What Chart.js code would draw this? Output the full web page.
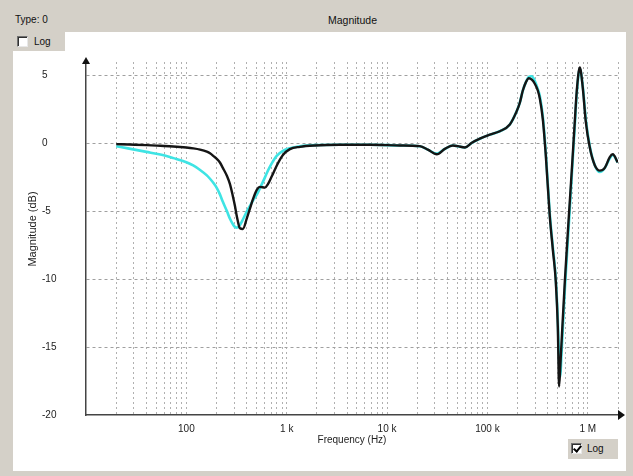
<!DOCTYPE html>
<html>
<head>
<meta charset="utf-8">
<script src="https://cdn.jsdelivr.net/npm/chart.js@4.4.0/dist/chart.umd.min.js"></script>
<style>
  html, body { margin: 0; padding: 0; }
  body {
    width: 633px; height: 476px; position: relative; overflow: hidden;
    background: #d4d0c8; color: #111;
    font-family: "Liberation Sans", Arial, sans-serif; font-size: 10px;
  }
  .lbl { position: absolute; white-space: nowrap; line-height: 12px; }
  #panel { position: absolute; left: 13px; top: 32px; width: 613px; height: 439px; background: #fff; }
  .logbox { position: absolute; background: #d4d0c8; }
  .chk {
    position: absolute; width: 9px; height: 9px; background: #fff;
    border-top: 1px solid #707070; border-left: 1px solid #707070;
    border-right: 1px solid #e8e8e8; border-bottom: 1px solid #e8e8e8;
    box-shadow: inset 1px 1px 0 #303030;
  }
  .tick {
    position: absolute; left: 3px; top: 0px; width: 3px; height: 6px;
    border-right: 2px solid #000; border-bottom: 2px solid #000; transform: rotate(40deg);
  }
  canvas { position: absolute; left: 0; top: 0; }
</style>
</head>
<body>
<div class="lbl" style="left:15px; top:14px;">Type: 0</div>
<div class="lbl" style="left:328px; top:14px; font-size:10.5px;">Magnitude</div>
<div id="panel"></div>
<div class="logbox" style="left:13px; top:32px; width:52px; height:19px;">
  <span class="chk" style="left:4px; top:4px;"></span>
  <span class="lbl" style="left:21px; top:4px;">Log</span>
</div>
<div class="logbox" style="left:568px; top:439px; width:50px; height:20px;">
  <span class="chk" style="left:3px; top:4px;"><span class="tick"></span></span>
  <span class="lbl" style="left:19px; top:4px;">Log</span>
</div>
<canvas id="chart" width="633" height="476"></canvas>
<script>
// frequency points (Hz) and magnitude (dB) for the two traces
const freqHz = [20, 27, 40, 55, 74, 100, 117, 137, 160, 172, 188, 202, 216, 231, 254, 272, 291, 305, 319, 342,
  366, 401, 430, 461, 505, 541, 607, 650, 712, 799, 917, 1076, 1353, 1910, 3388, 6742, 13410, 21220, 25490, 31330,
  37640, 45220, 50730, 59550, 69940, 84010, 105700, 132900, 167200, 196300, 210300, 225200, 241300, 258500, 276800,
  296600, 317700, 332700, 356300, 381700, 418400, 448200, 480100, 502600, 517800, 532200, 544600, 590100, 646900,
  692500, 742000, 777000, 832300, 891600, 955200, 1047000, 1174000, 1317000, 1477000, 1656000, 1775000, 1990000];

const magBlack = [-0.05, -0.08, -0.12, -0.17, -0.22, -0.3, -0.36, -0.45, -0.6, -0.72, -0.95, -1.15, -1.4, -1.8, -2.4, -3.0, -3.9, -4.6, -5.4, -6.25,
  -6.3, -5.5, -4.8, -4.1, -3.4, -3.2, -3.25, -3.0, -2.4, -1.6, -0.85, -0.42, -0.25, -0.15, -0.1, -0.1, -0.15, -0.2, -0.45, -0.8,
  -0.4, -0.15, -0.2, -0.3, 0.05, 0.35, 0.65, 0.9, 1.4, 2.4, 3.0, 3.9, 4.5, 4.8, 4.7,
  4.4, 3.9, 3.3, 1.8, -0.9, -5.4, -7.8, -10.2, -13.5, -17.9, -16.4, -15.0, -10.2, -5.4,
  -2.0, 1.6, 3.9, 5.6, 4.1, 1.6, -0.3, -1.6, -2.0, -1.8, -1.0, -0.8, -1.4];

const magCyan = [-0.2, -0.38, -0.62, -0.82, -1.08, -1.38, -1.62, -1.95, -2.35, -2.6, -2.95, -3.3, -3.75, -4.3, -5.0, -5.55, -5.95, -6.15, -6.2, -6.0,
  -5.6, -5.0, -4.6, -4.2, -3.75, -3.3, -2.5, -2.0, -1.45, -0.9, -0.55, -0.35, -0.2, -0.12, -0.1, -0.1, -0.15, -0.2, -0.45, -0.75,
  -0.4, -0.15, -0.2, -0.3, 0.05, 0.35, 0.65, 0.9, 1.4, 2.4, 3.0, 3.9, 4.5, 4.9, 4.95,
  4.6, 4.0, 3.5, 2.0, -0.7, -5.2, -7.6, -10.0, -13.0, -16.0, -17.2, -15.8, -10.8, -6.0,
  -2.4, 1.3, 3.7, 5.5, 4.2, 1.8, -0.2, -1.6, -2.1, -1.8, -1.1, -0.85, -1.4];

const xLabelValues = [100, 1000, 10000, 100000, 1000000];
const xLabels = ['100', '1 k', '10 k', '100 k', '1 M'];
const yTicks = [-20, -15, -10, -5, 0, 5];
const xTitle = 'Frequency (Hz)';
const yTitle = 'Magnitude (dB)';

// grid at 2..9 of every decade, like the original plot
const xGrid = [];
for (let d = 10; d < 2e6; d *= 10) {
  for (let m = 1; m <= 9; m++) {
    const v = d * m;
    if (v > 10 && v <= 2e6) xGrid.push(v);
  }
}

const FONT = '"Liberation Sans", Arial, sans-serif';

const axisDecor = {
  id: 'axisDecor',
  afterDraw(chart) {
    const { ctx, chartArea: a } = chart;
    ctx.save();
    ctx.strokeStyle = '#444';
    ctx.lineWidth = 1.5;
    ctx.beginPath();
    ctx.moveTo(a.left, a.top); ctx.lineTo(a.left, a.top - 3);
    ctx.moveTo(a.right, a.bottom); ctx.lineTo(a.right + 3, a.bottom);
    ctx.stroke();
    ctx.fillStyle = '#111';
    ctx.beginPath();
    ctx.moveTo(a.left, a.top - 5); ctx.lineTo(a.left - 4, a.top + 2); ctx.lineTo(a.left + 4, a.top + 2);
    ctx.closePath(); ctx.fill();
    ctx.beginPath();
    ctx.moveTo(a.right + 7, a.bottom); ctx.lineTo(a.right, a.bottom - 5); ctx.lineTo(a.right, a.bottom + 5);
    ctx.closePath(); ctx.fill();
    // y axis title
    ctx.translate(33, 229);
    ctx.rotate(-Math.PI / 2);
    ctx.font = '11px ' + FONT;
    ctx.fillStyle = '#222';
    ctx.textAlign = 'center';
    ctx.textBaseline = 'middle';
    ctx.fillText(yTitle, 0, 0);
    ctx.restore();
  }
};

new Chart(document.getElementById('chart').getContext('2d'), {
  type: 'line',
  data: {
    datasets: [
      {
        data: freqHz.map((f, i) => ({ x: f, y: magBlack[i] })),
        borderColor: '#151515', borderWidth: 2.4, pointRadius: 0,
        cubicInterpolationMode: 'monotone'
      },
      {
        data: freqHz.map((f, i) => ({ x: f, y: magCyan[i] })),
        borderColor: '#3ee4e4', borderWidth: 2.6, pointRadius: 0,
        cubicInterpolationMode: 'monotone'
      }
    ]
  },
  options: {
    responsive: false,
    animation: false,
    devicePixelRatio: 1,
    layout: { padding: { left: 42, top: 62, right: 15, bottom: 21 } },
    plugins: { legend: { display: false }, tooltip: { enabled: false } },
    scales: {
      x: {
        type: 'logarithmic', min: 10, max: 2e6,
        afterBuildTicks: s => { s.ticks = xGrid.map(v => ({ value: v })); },
        afterFit: s => { s.height = 40; },
        grid: { color: '#b0b0b0', lineWidth: 1, drawTicks: false },
        border: { display: true, color: '#444', width: 1.5, dash: [2, 3] },
        ticks: {
          autoSkip: false, maxRotation: 0, padding: 8, color: '#222',
          font: { family: FONT, size: 10 },
          callback: v => { const k = xLabelValues.indexOf(v); return k >= 0 ? xLabels[k] : ''; }
        },
        title: { display: true, text: xTitle, color: '#222', font: { family: FONT, size: 10 }, padding: { top: 0, bottom: 9 } }
      },
      y: {
        min: -20, max: 6,
        afterBuildTicks: s => { s.ticks = yTicks.map(v => ({ value: v })); },
        afterFit: s => { s.width = 44; },
        grid: {
          color: c => (c.tick && c.tick.value === -20 ? 'rgba(0,0,0,0)' : '#a0a0a0'),
          lineWidth: 1, drawTicks: false
        },
        border: { display: true, color: '#444', width: 1.5, dash: [3, 3] },
        ticks: { crossAlign: 'far', padding: 0, color: '#222', font: { family: FONT, size: 10 } }
      }
    }
  },
  plugins: [axisDecor]
});
</script>
</body>
</html>
